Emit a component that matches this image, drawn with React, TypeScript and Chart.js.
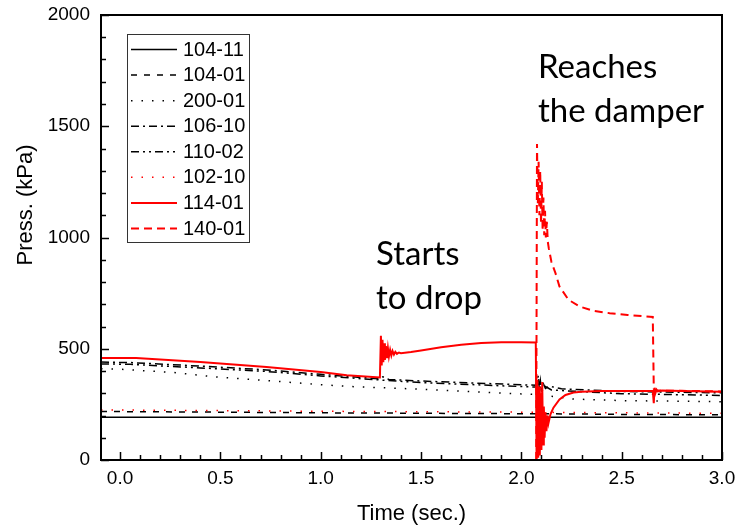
import React, { useEffect, useRef } from "react";
import { Chart, registerables } from "chart.js";

Chart.register(...registerables);

// ---- axes ----
const X_MIN = -0.095;
const X_MAX = 3.0;
const Y_MIN = 0;
const Y_MAX = 2000;
const X_TICKS = [0, 0.5, 1.0, 1.5, 2.0, 2.5, 3.0];
const Y_TICKS = [0, 500, 1000, 1500, 2000];
const X_TITLE = "Time (sec.)";
const Y_TITLE = "Press. (kPa)";

// ---- series (time sec., pressure kPa) ----
const NAMES = ["104-11", "104-01", "200-01", "106-10", "110-02", "102-10", "114-01", "140-01"];

const s104_11: [number, number][] = [
  [-0.095, 192], [1.0, 192], [2.0, 192], [3.0, 192],
];

const s104_01: [number, number][] = [
  [-0.095, 218], [0.5, 215], [1.0, 212], [1.3, 211], [1.5, 210], [2.0, 208], [2.08, 208], [2.5, 205], [3.0, 203],
];

const s200_01: [number, number][] = [
  [-0.095, 410], [0.0, 408], [0.27, 393], [0.48, 373], [0.73, 357], [0.98, 340], [1.13, 331], [1.5, 318],
  [1.76, 307], [2.0, 297], [2.08, 294], [2.26, 274], [2.5, 267], [3.0, 262],
];

const s106_10: [number, number][] = [
  [-0.095, 440], [0.05, 438], [0.4, 422], [0.73, 405], [1.0, 385], [1.29, 365], [1.31, 374], [1.34, 362],
  [1.5, 355], [2.0, 338], [2.07, 336], [2.085, 380], [2.09, 310], [2.095, 355], [2.1, 318], [2.11, 342],
  [2.12, 322], [2.14, 332], [2.2, 320], [2.5, 308], [3.0, 302],
];

const s110_02: [number, number][] = [
  [-0.095, 432], [0.05, 430], [0.4, 414], [0.73, 398], [1.0, 378], [1.29, 360], [1.5, 348], [2.0, 330],
  [2.07, 328], [2.09, 345], [2.1, 305], [2.12, 330], [2.15, 315], [2.2, 312], [2.5, 298], [3.0, 290],
];

const s102_10: [number, number][] = [
  [-0.095, 225], [0.5, 222], [1.0, 219], [1.5, 217], [2.0, 215], [2.5, 212], [3.0, 210],
];

const s114_01: [number, number][] = [
  [-0.095, 458], [0.08, 458], [0.4, 440], [0.73, 418], [1.0, 395], [1.13, 381], [1.295, 371],
  [1.3, 558], [1.304, 425], [1.308, 540], [1.312, 440], [1.316, 525], [1.32, 450], [1.325, 512],
  [1.33, 458], [1.335, 502], [1.34, 465], [1.346, 495], [1.352, 470], [1.358, 490], [1.365, 474],
  [1.372, 486], [1.38, 477], [1.39, 483], [1.4, 480], [1.45, 485], [1.5, 492], [1.6, 507], [1.7, 518],
  [1.8, 526], [1.9, 529], [2.0, 529], [2.072, 528],
  [2.076, 0], [2.08, 360], [2.084, 10], [2.088, 330], [2.092, 20], [2.096, 300], [2.1, 45], [2.104, 350],
  [2.108, 70], [2.112, 240], [2.116, 100], [2.12, 215], [2.125, 130], [2.13, 200], [2.135, 165],
  [2.145, 205], [2.16, 235], [2.19, 272], [2.22, 292], [2.26, 303], [2.3, 307], [2.4, 310], [2.5, 310],
  [2.655, 310], [2.66, 255], [2.664, 325], [2.668, 300], [2.674, 316], [2.68, 308], [2.7, 312],
  [2.8, 310], [3.0, 307],
];

const s140_01: [number, number][] = [
  [2.074, 0], [2.078, 1420], [2.082, 1150], [2.086, 1340], [2.09, 1100], [2.094, 1300], [2.098, 1060],
  [2.102, 1250], [2.106, 1030], [2.11, 1180], [2.114, 1010], [2.118, 1120], [2.122, 1000], [2.127, 1070],
  [2.132, 980], [2.137, 950], [2.15, 890], [2.17, 840], [2.19, 780], [2.235, 720], [2.29, 690],
  [2.36, 670], [2.44, 660], [2.53, 652], [2.655, 643], [2.66, 320], [2.67, 312], [2.8, 311], [3.0, 308],
];

const SERIES = [s104_11, s104_01, s200_01, s106_10, s110_02, s102_10, s114_01, s140_01];

const COLORS = ["#000000", "#000000", "#000000", "#000000", "#000000", "#ff0000", "#ff0000", "#ff0000"];
const WIDTHS = [1.5, 1.5, 1.5, 1.5, 1.5, 1.5, 2, 2];
const DASHES: number[][] = [[], [6, 7], [1.5, 9], [8, 4, 2, 4], [8, 4, 2, 4, 2, 4], [1.5, 9], [], [8, 5]];

// ---- annotations ----
const NOTES = [
  { lines: ["Starts", "to drop"], x: 376, y: 265 },
  { lines: ["Reaches", "the damper"], x: 538, y: 78 },
];

const SANS = "'Liberation Sans', Arial, sans-serif";

const overlayPlugin = {
  id: "overlay",
  afterDraw(chart: any) {
    const { ctx, chartArea: a, scales } = chart;
    const xs = scales.x;
    const ys = scales.y;
    ctx.save();

    // frame
    ctx.strokeStyle = "#000";
    ctx.lineWidth = 2;
    ctx.setLineDash([]);
    ctx.strokeRect(a.left, a.top, a.right - a.left, a.bottom - a.top);

    // inward ticks
    ctx.lineWidth = 1.5;
    ctx.beginPath();
    for (let i = 0; i <= 30; i++) {
      const px = Math.round(xs.getPixelForValue(i / 10)) + 0.5;
      const len = i % 5 === 0 ? 8 : 5;
      ctx.moveTo(px, a.bottom);
      ctx.lineTo(px, a.bottom - len);
    }
    for (let v = 0; v <= 2000; v += 100) {
      const py = Math.round(ys.getPixelForValue(v)) + 0.5;
      const len = v % 500 === 0 ? 8 : 5;
      ctx.moveTo(a.left, py);
      ctx.lineTo(a.left + len, py);
    }
    ctx.stroke();

    // axis titles
    ctx.fillStyle = "#000";
    ctx.font = `22px ${SANS}`;
    ctx.textAlign = "center";
    ctx.textBaseline = "middle";
    ctx.fillText(X_TITLE, (a.left + a.right) / 2, 514);
    ctx.save();
    ctx.translate(25.5, 205);
    ctx.rotate(-Math.PI / 2);
    ctx.fillText(Y_TITLE, 0, 0);
    ctx.restore();

    // legend
    ctx.lineWidth = 1;
    ctx.strokeStyle = "#333";
    ctx.strokeRect(127.5, 34.5, 122, 208);
    chart.data.datasets.forEach((ds: any, i: number) => {
      const cy = 49.5 + i * 25.57;
      ctx.strokeStyle = ds.borderColor;
      ctx.lineWidth = ds.borderWidth;
      ctx.setLineDash(ds.borderDash || []);
      ctx.beginPath();
      ctx.moveTo(131, cy);
      ctx.lineTo(177, cy);
      ctx.stroke();
      ctx.setLineDash([]);
      ctx.fillStyle = "#000";
      ctx.font = `20px ${SANS}`;
      ctx.textAlign = "left";
      ctx.textBaseline = "middle";
      ctx.fillText(ds.label, 183, cy + 0.5);
    });

    // annotations
    ctx.fillStyle = "#000";
    ctx.font = "33px Lato, 'Open Sans', sans-serif";
    ctx.textAlign = "left";
    ctx.textBaseline = "alphabetic";
    NOTES.forEach((n) => {
      n.lines.forEach((t, k) => ctx.fillText(t, n.x, n.y + k * 44));
    });

    ctx.restore();
  },
};

const zeroPad = (s: any) => {
  s.paddingTop = 0;
  s.paddingBottom = 0;
  s.paddingLeft = 0;
  s.paddingRight = 0;
};

export default function App() {
  const ref = useRef<HTMLCanvasElement | null>(null);

  useEffect(() => {
    if (!ref.current) return;
    const datasets = SERIES.map((pts, i) => ({
      label: NAMES[i],
      data: pts.map(([x, y]) => ({ x, y })),
      borderColor: COLORS[i],
      backgroundColor: COLORS[i],
      borderWidth: WIDTHS[i],
      borderDash: DASHES[i],
      pointRadius: 0,
      tension: 0,
      fill: false,
      order: SERIES.length - 1 - i,
    }));

    const chart = new Chart(ref.current, {
      type: "line",
      data: { datasets },
      options: {
        responsive: false,
        animation: false,
        devicePixelRatio: 1,
        layout: { padding: { left: 0, right: 17, top: 15, bottom: 0 } },
        plugins: { legend: { display: false }, tooltip: { enabled: false }, title: { display: false } },
        scales: {
          x: {
            type: "linear",
            min: X_MIN,
            max: X_MAX,
            grid: { display: false, drawTicks: false },
            border: { display: false },
            afterBuildTicks: (s: any) => {
              s.ticks = X_TICKS.map((v) => ({ value: v }));
            },
            afterFit: (s: any) => {
              s.height = 67;
              zeroPad(s);
            },
            ticks: {
              autoSkip: false,
              maxRotation: 0,
              padding: 7,
              color: "#000",
              font: { family: SANS, size: 19 },
              callback: (v: any) => Number(v).toFixed(1),
            },
          },
          y: {
            type: "linear",
            min: Y_MIN,
            max: Y_MAX,
            grid: { display: false, drawTicks: false },
            border: { display: false },
            afterBuildTicks: (s: any) => {
              s.ticks = Y_TICKS.map((v) => ({ value: v }));
            },
            afterFit: (s: any) => {
              s.width = 101;
              zeroPad(s);
            },
            ticks: {
              autoSkip: false,
              padding: 11,
              color: "#000",
              font: { family: SANS, size: 19 },
              callback: (v: any) => String(v),
            },
          },
        },
      },
      plugins: [overlayPlugin],
    });
    return () => chart.destroy();
  }, []);

  return (
    <div style={{ position: "fixed", left: 0, top: 0, width: 739, height: 527, background: "#fff" }}>
      <canvas ref={ref} width={739} height={527} style={{ display: "block" }} />
    </div>
  );
}
